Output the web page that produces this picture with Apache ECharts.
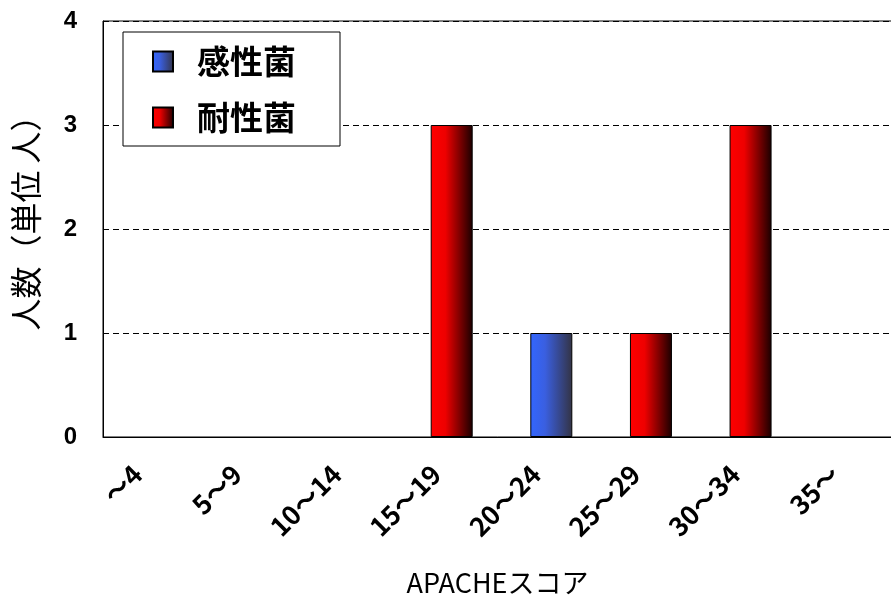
<!DOCTYPE html>
<html><head><meta charset="utf-8">
<script src="https://cdn.jsdelivr.net/npm/echarts@6/dist/echarts.min.js"></script>
<style>html,body{margin:0;padding:0;background:#fff}#c{width:891px;height:601px}</style>
</head><body><div id="c"></div>
<script>
const categories = ['～4', '5～9', '10～14', '15～19', '20～24', '25～29', '30～34', '35～'];
const susceptible = [0, 0, 0, 0, 1, 0, 0, 0];   // 感性菌
const resistant   = [0, 0, 0, 3, 0, 1, 3, 0];   // 耐性菌
const yTicks = [0, 1, 2, 3, 4];

const FONT = '"Noto Sans CJK JP", "Noto Sans", sans-serif';
const toData = a => a.map(v => v === 0 ? '-' : v);
const grad = (c0, c1, c2) => ({type:'linear', x:0, y:0, x2:1, y2:0, colorStops:[
  {offset:0, color:c0},{offset:0.35, color:c1},{offset:1, color:c2}]});

const chart = echarts.init(document.getElementById('c'));
chart.setOption({
  animation: false,
  backgroundColor: '#fff',
  grid: {left: 103, top: 21, width: 797, height: 416, outerBoundsMode: 'none', containLabel: false,
         show: true, borderColor: '#000', borderWidth: 1},
  legend: {
    left: 123, top: 32, orient: 'vertical',
    backgroundColor: '#fff', borderColor: '#000', borderWidth: 1, borderRadius: 0,
    padding: [13, 44, 12, 29], itemGap: 23, itemWidth: 20, itemHeight: 20,
    icon: 'rect',
    textStyle: {fontFamily: FONT, fontSize: 33, fontWeight: 'bold', color: '#000', lineHeight: 30, padding: [0, 0, 0, 19]},
    data: ['感性菌', '耐性菌']
  },
  xAxis: {
    type: 'category', data: categories,
    axisLine: {lineStyle: {color: '#000', width: 1}},
    axisTick: {inside: true, length: 6, lineStyle: {color: '#000'}},
    axisLabel: {interval: 0, rotate: 45, margin: 17, fontFamily: FONT, fontSize: 26, fontWeight: 'bold', color: '#000', padding: [0, 22, 0, 0]},
    name: 'APACHEスコア', nameLocation: 'middle', nameGap: 132,
    nameTextStyle: {fontFamily: FONT, fontSize: 27, color: '#000', padding: [0, 8, 0, 0]}
  },
  yAxis: {
    type: 'value', min: yTicks[0], max: yTicks[yTicks.length-1], interval: 1,
    axisLine: {show: true, lineStyle: {color: '#000', width: 1}},
    axisTick: {show: false},
    axisLabel: {margin: 26, fontFamily: '"Liberation Sans", sans-serif', fontSize: 24, fontWeight: 'bold', color: '#000'},
    splitLine: {show: true, lineStyle: {color: '#000', type: [6, 4], width: 1}},
    name: '人数（単位 人）', nameLocation: 'middle', nameRotate: 90, nameGap: 61,
    nameTextStyle: {fontFamily: FONT, fontSize: 32, color: '#000', padding: [0, 0, 0, 28]}
  },
  series: [
    {name: '感性菌', type: 'bar', data: toData(susceptible), barWidth: 42, barGap: '-100%',
     itemStyle: {color: grad('#3366ff', '#3a5fe0', '#333344'), borderColor: '#000', borderWidth: 1}},
    {name: '耐性菌', type: 'bar', data: toData(resistant), barWidth: 42, barGap: '-100%',
     itemStyle: {color: grad('#ff0000', '#ee0000', '#1a0000'), borderColor: '#000', borderWidth: 1}}
  ]
});
</script></body></html>
